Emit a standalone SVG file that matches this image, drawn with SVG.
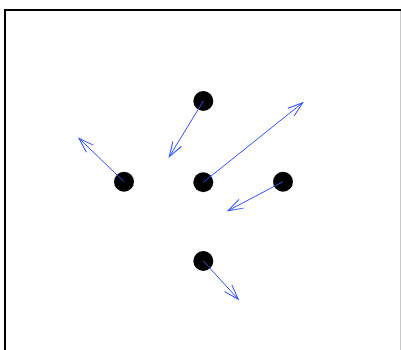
<svg xmlns="http://www.w3.org/2000/svg" width="401" height="350" viewBox="0 0 401 350">
<style>
.node{fill:#000}
.edge{stroke:#2f50ff;stroke-width:1;fill:none;marker-end:url(#ah)}
</style>
<defs>
<marker id="ah" markerUnits="userSpaceOnUse" markerWidth="20" markerHeight="14" refX="0" refY="0" viewBox="-17 -7 20 14" orient="auto">
<path d="M-15,-5 L0,0 L-15,5" fill="none" stroke="#2f50ff" stroke-width="1"/>
</marker>
</defs>
<rect x="0" y="0" width="401" height="350" fill="#fff"/>
<line x1="5" y1="10" x2="401" y2="10" stroke="#000" stroke-width="2"/>
<line x1="5" y1="9" x2="5" y2="350" stroke="#000" stroke-width="2"/>
<line x1="400.5" y1="11" x2="400.5" y2="350" stroke="#c8c8c8" stroke-width="1"/>
<g id="n1"><circle class="node" cx="203.3" cy="101" r="10"/></g>
<g id="n2"><circle class="node" cx="124" cy="181.7" r="10"/></g>
<g id="n3"><circle class="node" cx="203.3" cy="182.3" r="10"/></g>
<g id="n4"><circle class="node" cx="283" cy="181.7" r="10"/></g>
<g id="n5"><circle class="node" cx="203.3" cy="261" r="10"/></g>
<g id="connectors">
<line class="edge" x1="203.3" y1="101" x2="169.3" y2="156.7"/>
<line class="edge" x1="124" y1="181.7" x2="79" y2="138.3"/>
<line class="edge" x1="203.3" y1="182.3" x2="302.7" y2="102.7"/>
<line class="edge" x1="283" y1="181.7" x2="228" y2="210.7"/>
<line class="edge" x1="203.3" y1="261" x2="238.3" y2="299.3"/>
</g>
</svg>
